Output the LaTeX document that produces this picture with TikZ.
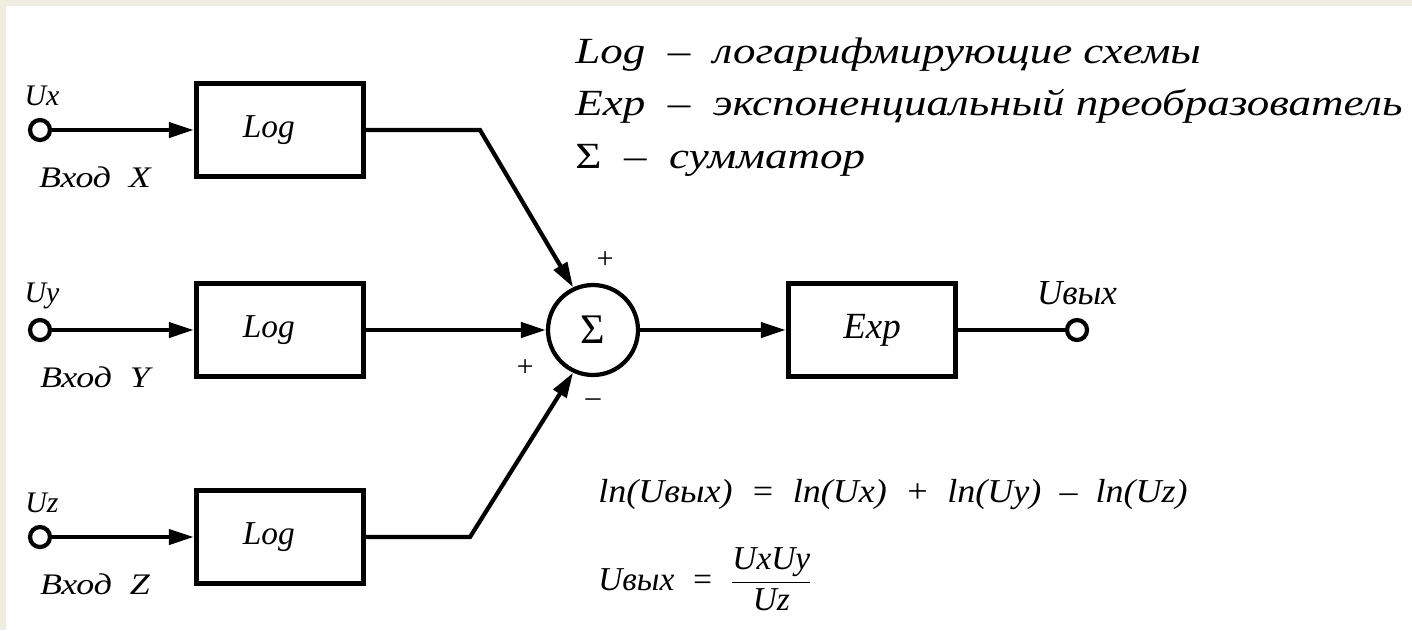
\documentclass[tikz,border=0pt]{standalone}
\usepackage{amsmath}
\usepackage{graphicx}
\usepackage{fontspec}
\setmainfont{Liberation Serif}
\usetikzlibrary{arrows.meta,positioning}
\definecolor{paper}{RGB}{239,236,224}
\newcommand\hstretch[2]{\scalebox{#1}[1]{#2}}

\begin{document}
\begin{tikzpicture}[x=0.02cm,y=-0.02cm,
  blk/.style={draw,line width=2.8pt,minimum width=3.35cm,minimum height=1.85cm,font=\itshape\fontsize{19}{22}\selectfont},
  term/.style={circle,draw,line width=2.4pt,minimum size=0.4cm,inner sep=0pt},
  wire/.style={line width=2.4pt},
  arr/.style={wire,-{Triangle[length=0.5cm,width=0.3cm]}},
  lab/.style={font=\itshape\fontsize{17}{20}\selectfont},
  leg/.style={anchor=base west,inner sep=0pt,font=\itshape\fontsize{21}{24}\selectfont},
  form/.style={anchor=base west,inner sep=0pt,font=\itshape\fontsize{19}{22}\selectfont}]
\useasboundingbox (0,0) rectangle (1412,630);
\fill[paper] (0,0) rectangle (1412,630);
\fill[white] (6,6) rectangle (1412,630);

% inputs and log stages
\foreach \r/\yy/\s in {X/130/x,Y/330/y,Z/537/z} {
  \node[term] (in\r) at (40,\yy) {};
  \node[blk] (log\r) at (280,\yy) {\hspace*{-0.45cm}Log};
  \node[lab] (u\r) at (42,\yy-34) {U\s};
  \node[lab] (vh\r) at (95,\yy+47) {\hstretch{1.2}{Вход\ \ \r}};
  \draw[arr] (in\r) -- (log\r);
}

% summing junction
\node[circle,draw,line width=2.4pt,minimum size=1.8cm,font=\fontsize{24}{26}\selectfont] (sum) at (593,330) {Σ};
\coordinate (kX) at (480,130);
\coordinate (kZ) at (470,537);
\draw[arr] (logX.east) -- (kX) -- (sum.115);
\draw[arr] (logY) -- (sum);
\draw[arr] (logZ.east) -- (kZ) -- (sum.-115);
\node[lab] (pX) at (605,260) {+};
\node[lab] (pY) at (525,368) {+};
\node[lab] (mZ) at (593,403) {–};

% exponential stage and output
\node[blk,font=\itshape\fontsize{21}{24}\selectfont] (exp) at (872,330) {Exp};
\draw[arr] (sum) -- (exp);
\node[term] (out) at (1077,330) {};
\draw[wire] (exp) -- (out);
\node[lab,font=\itshape\fontsize{20}{22}\selectfont] (uout) at (1077,293) {Uвых};

% legend
\node[leg] (leg1) at (575,63) {\hstretch{1.22}{Log\ \ –\ \ логарифмирующие схемы}};
\node[leg] (leg2) at (575,115) {\hstretch{1.22}{Exp\ \ –\ \ экспоненциальный преобразователь}};
\node[leg] (leg3) at (575,168) {\hstretch{1.22}{\upshape Σ\itshape\ \ –\ \ сумматор}};

% formulas
\node[form] (f1) at (598,502) {\hstretch{1.08}{ln(Uвых)\ \ =\ \ ln(Ux)\ \ +\ \ ln(Uy)\ \ –\ \ ln(Uz)}};
\node[form] (f2) at (598,590) {Uвых\ \ =\ \ $\dfrac{\textit{UxUy}}{\textit{Uz}}$};
\end{tikzpicture}
\end{document}
